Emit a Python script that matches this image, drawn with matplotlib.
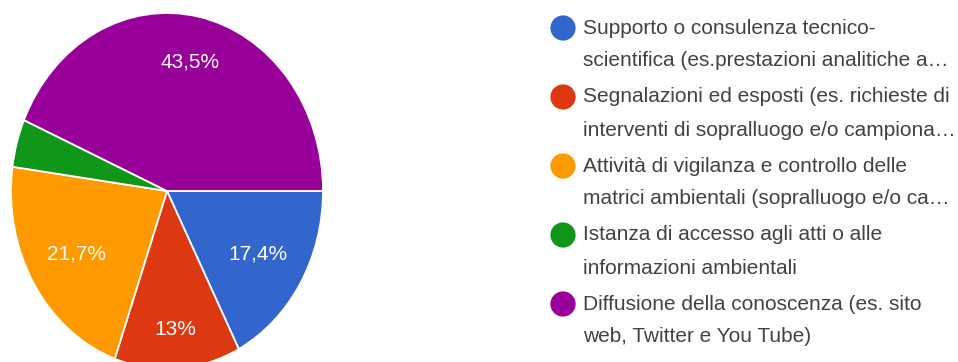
import matplotlib.pyplot as plt
import numpy as np

plt.rcParams['font.family'] = ['Liberation Sans', 'DejaVu Sans']

# survey answers (number of respondents per option)
categories = [
    ['Supporto o consulenza tecnico-', 'scientifica (es.prestazioni analitiche a…'],
    ['Segnalazioni ed esposti (es. richieste di', 'interventi di sopralluogo e/o campiona…'],
    ['Attività di vigilanza e controllo delle', 'matrici ambientali (sopralluogo e/o ca…'],
    ['Istanza di accesso agli atti o alle', 'informazioni ambientali'],
    ['Diffusione della conoscenza (es. sito', 'web, Twitter e You Tube)'],
]
counts = [4, 3, 5, 1, 10]
colors = ['#3366cc', '#dc3912', '#ff9900', '#109618', '#990099']
label_radius = [0.68, 0.78, 0.68, 0.70, 0.74]

W, H = 958, 362
fig = plt.figure(figsize=(W / 100, H / 100), dpi=100)

# pie axes, placed in pixels (the pie is slightly taller than wide)
cx, cy, rx, ry = 167, 191, 156, 178
ax = fig.add_axes([(cx - rx) / W, (H - cy - ry) / H, 2 * rx / W, 2 * ry / H])


def fmt(p):
    if p < 5:
        return ''
    s = f'{p:.1f}'.replace('.', ',')
    if s.endswith(',0'):
        s = s[:-2]
    return s + '%'


wedges, texts, autotexts = ax.pie(
    counts, colors=colors, startangle=0, counterclock=False,
    autopct=fmt, pctdistance=0.7,
    wedgeprops=dict(edgecolor='white', linewidth=1.3),
    textprops=dict(color='white', fontsize=15))
ax.set_aspect('auto')
ax.set_xlim(-1, 1)
ax.set_ylim(-1, 1)

# move each percentage along its wedge bisector
for w, t, r in zip(wedges, autotexts, label_radius):
    a = np.deg2rad((w.theta1 + w.theta2) / 2)
    t.set_position((r * np.cos(a), r * np.sin(a)))
    t.set_ha('center')
    t.set_va('center')

# legend drawn by hand in pixel coordinates
lax = fig.add_axes([0, 0, 1, 1])
lax.set_xlim(0, W)
lax.set_ylim(H, 0)
lax.axis('off')
y0, item_gap, line_gap = 28, 69, 33
for i, (lines, c) in enumerate(zip(categories, colors)):
    y = y0 + i * item_gap
    lax.scatter([563], [y], s=330, color=c, edgecolor='none')
    for j, line in enumerate(lines):
        lax.text(583, y + j * line_gap, line, fontsize=15, color='#424242',
                 ha='left', va='center')

fig.savefig('out.png', dpi=100, facecolor='white')
